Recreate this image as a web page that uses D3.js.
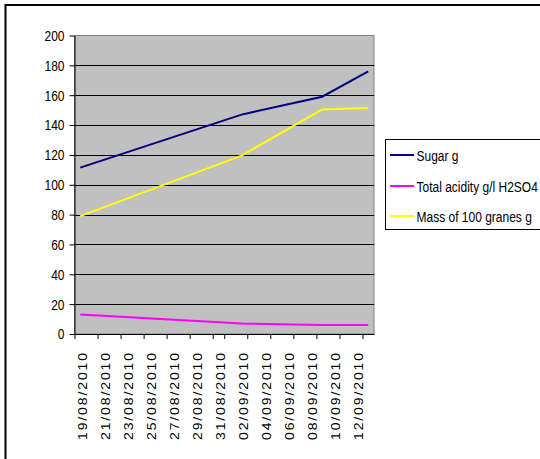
<!DOCTYPE html>
<html><head><meta charset="utf-8">
<script src="https://cdn.jsdelivr.net/npm/d3@7"></script>
<style>body{margin:0;background:#fff}svg{display:block}</style>
</head><body>
<svg id="c" width="540" height="459"></svg>
<script>
const dates = ["2010-08-19","2010-09-02","2010-09-09","2010-09-13"];
const sugar = [111.5, 147, 159, 176];
const acidity = [13, 7, 6, 6];
const mass = [79, 119.5, 150.5, 151.5];
const seriesNames = ["Sugar g","Total acidity g/l H2SO4","Mass of 100 granes g"];
const seriesColors = ["#000080","#FF00FF","#FFFF00"];
const yTicks = [0,20,40,60,80,100,120,140,160,180,200];
const xLabelDates = ["2010-08-19","2010-08-21","2010-08-23","2010-08-25","2010-08-27","2010-08-29","2010-08-31","2010-09-02","2010-09-04","2010-09-06","2010-09-08","2010-09-10","2010-09-12"];
const axisStart = "2010-08-19", axisEnd = "2010-09-14";

const font = "'Liberation Sans',Arial,sans-serif";
const sx = 0.8;
const parse = d3.utcParse("%Y-%m-%d");
const noon = s => d3.utcHour.offset(parse(s), 12);
const svg = d3.select("#c");

// outer frame
svg.append("rect").attr("x",5.5).attr("y",5).attr("width",540).attr("height",460)
  .attr("fill","#fff").attr("stroke","#000").attr("stroke-width",2);

const L=74.5, R=374, T=35.5, B=334;
const x = d3.scaleUtc().domain([parse(axisStart), parse(axisEnd)]).range([L,R]);
const y = d3.scaleLinear().domain([0,200]).range([B,T]);

// plot area
svg.append("rect").attr("x",L).attr("y",T).attr("width",R-L).attr("height",B-T)
  .attr("fill","#C0C0C0").attr("stroke","#808080").attr("stroke-width",1);

// gridlines
svg.append("g").selectAll("line").data(yTicks.filter(v=>v>0 && v<200)).join("line")
  .attr("x1",L).attr("x2",R).attr("y1",d=>Math.round(y(d))+0.5).attr("y2",d=>Math.round(y(d))+0.5)
  .attr("stroke","#000").attr("stroke-width",1);

// y axis
const yAxis = d3.axisLeft(y).tickValues(yTicks).tickSize(5).tickSizeOuter(0).tickFormat("");
const gy = svg.append("g").attr("transform",`translate(${L},0)`).call(yAxis);
gy.select(".domain").attr("stroke","#000");
gy.selectAll("line").attr("stroke","#000");
svg.append("g").selectAll("text").data(yTicks).join("text")
  .attr("transform",d=>`translate(64.5,${y(d)}) scale(${sx},1)`)
  .attr("text-anchor","end").attr("dy","0.36em")
  .attr("font-family",font).attr("font-size",15).attr("fill","#000")
  .text(d=>d);

// x axis ticks (every 2 days)
const tickDates = d3.utcDay.every(2).range(parse(axisStart), d3.utcDay.offset(parse(axisEnd),1));
const xAxis = d3.axisBottom(x).tickValues(tickDates).tickSize(5).tickSizeOuter(0).tickFormat("");
const gx = svg.append("g").attr("transform",`translate(0,${B})`).call(xAxis);
gx.select(".domain").attr("stroke","#000");
gx.selectAll("line").attr("stroke","#000");

const fmt = d3.utcFormat("%d/%m/%Y");
svg.append("g").selectAll("text").data(xLabelDates).join("text")
  .attr("transform",d=>`translate(${x(noon(d))+6.5},353) rotate(-90) scale(1,0.9)`)
  .attr("text-anchor","end")
  .attr("font-family",font).attr("font-size",14).attr("fill","#000")
  .attr("textLength",87).attr("lengthAdjust","spacing")
  .text(d=>fmt(parse(d)));

// lines
const line = d3.line().x(d=>x(noon(d.date))).y(d=>y(d.v));
[sugar, acidity, mass].forEach((s,i)=>{
  svg.append("path").datum(s.map((v,j)=>({date:dates[j], v})))
    .attr("d",line).attr("fill","none").attr("stroke",seriesColors[i]).attr("stroke-width",2);
});

// legend
const lg = svg.append("g");
lg.append("rect").attr("x",385.5).attr("y",139.5).attr("width",170).attr("height",90)
  .attr("fill","#fff").attr("stroke","#000").attr("stroke-width",1);
const ly = [155, 186, 216];
seriesNames.forEach((n,i)=>{
  lg.append("line").attr("x1",390).attr("x2",414).attr("y1",ly[i]).attr("y2",ly[i])
    .attr("stroke",seriesColors[i]).attr("stroke-width",2);
  lg.append("text").attr("transform",`translate(416.5,${ly[i]+5.5}) scale(${sx},1)`)
    .attr("font-family",font).attr("font-size",15).attr("fill","#000").text(n);
});
</script>
</body></html>
